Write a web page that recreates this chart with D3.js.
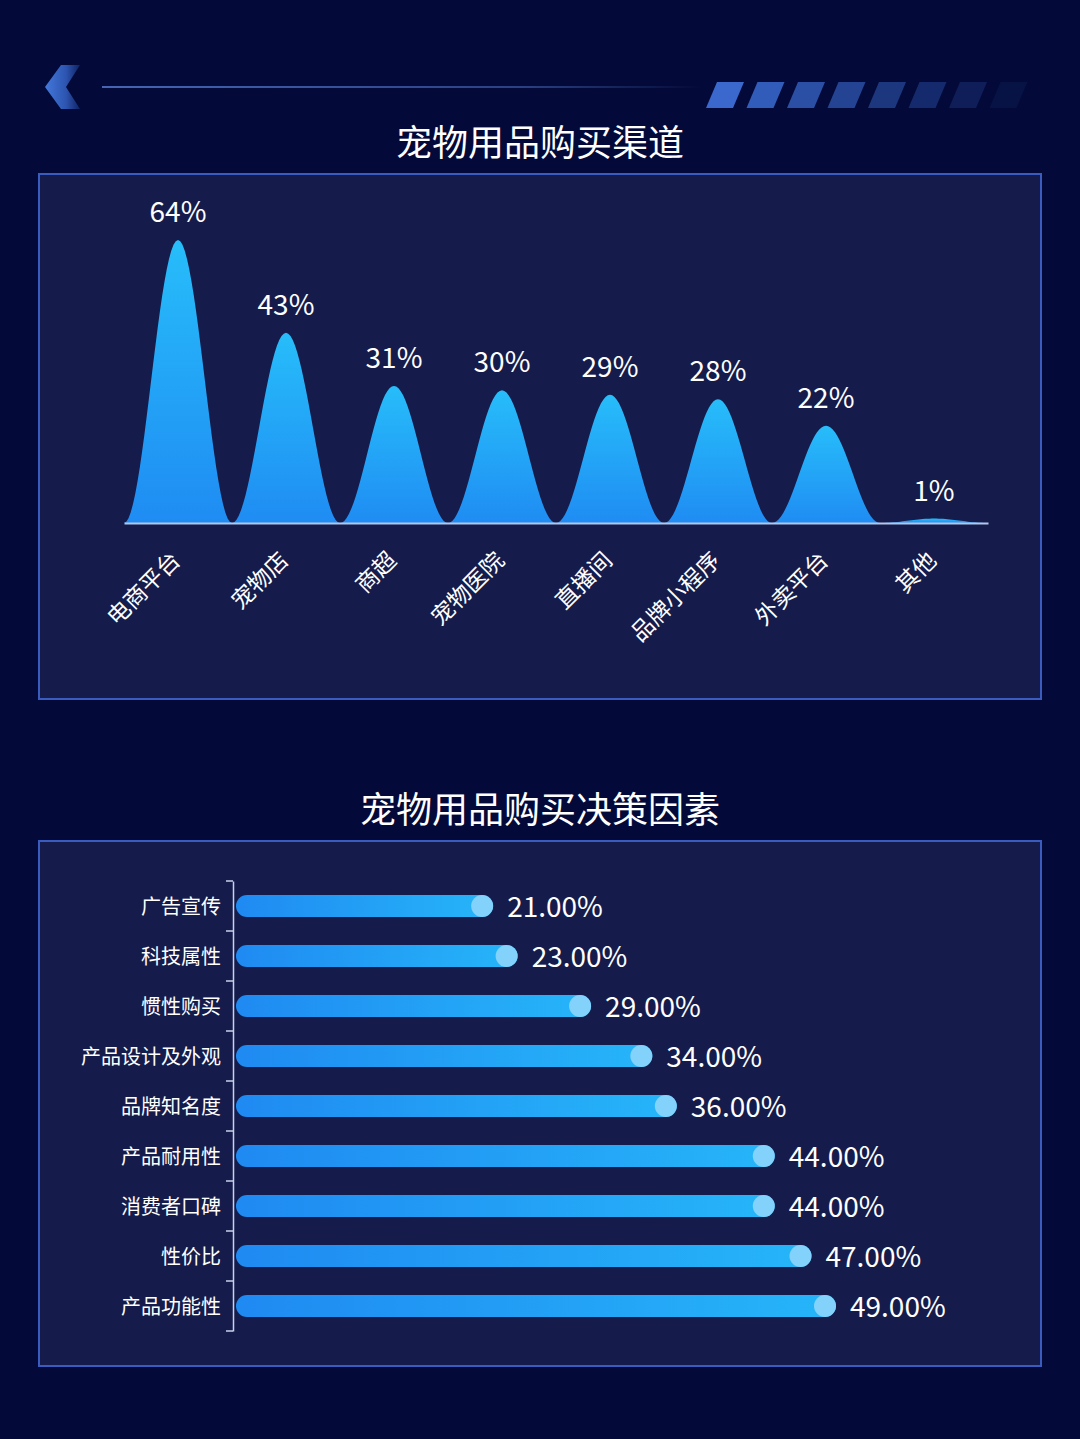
<!DOCTYPE html>
<html>
<head>
<meta charset="utf-8">
<script src="https://cdn.jsdelivr.net/npm/d3@7"></script>
<style>
  html, body { margin: 0; padding: 0; background: #030a39; }
  svg { display: block; }
  text { font-family: "Noto Sans CJK SC", "Noto Sans", sans-serif; fill: #fff; }
</style>
</head>
<body>
<div id="chart"></div>
<script>
// purchase channels (top chart)
var channels = ['电商平台', '宠物店', '商超', '宠物医院', '直播间', '品牌小程序', '外卖平台', '其他'];
var channelPct = [64, 43, 31, 30, 29, 28, 22, 1];

// purchase decision factors (bottom chart)
var factors = ['广告宣传', '科技属性', '惯性购买', '产品设计及外观', '品牌知名度', '产品耐用性', '消费者口碑', '性价比', '产品功能性'];
var factorPct = [21, 23, 29, 34, 36, 44, 44, 47, 49];

var W = 1080, H = 1439;
var svg = d3.select('#chart').append('svg')
    .attr('width', W)
    .attr('height', H);

var defs = svg.append('defs');

var peakGrad = defs.append('linearGradient')
    .attr('id', 'peakGrad')
    .attr('x1', 0).attr('y1', 0).attr('x2', 0).attr('y2', 1);
peakGrad.append('stop').attr('offset', '0%').attr('stop-color', '#27bdfa');
peakGrad.append('stop').attr('offset', '100%').attr('stop-color', '#1f8cf3');

var barGrad = defs.append('linearGradient')
    .attr('id', 'barGrad')
    .attr('x1', 0).attr('y1', 0).attr('x2', 1).attr('y2', 0);
barGrad.append('stop').attr('offset', '0%').attr('stop-color', '#1f8af2');
barGrad.append('stop').attr('offset', '100%').attr('stop-color', '#26b5f9');

var lineGrad = defs.append('linearGradient')
    .attr('id', 'lineGrad')
    .attr('x1', 0).attr('y1', 0).attr('x2', 1).attr('y2', 0);
lineGrad.append('stop').attr('offset', '0%').attr('stop-color', '#4665b4').attr('stop-opacity', 1);
lineGrad.append('stop').attr('offset', '70%').attr('stop-color', '#4665b4').attr('stop-opacity', 0.6);
lineGrad.append('stop').attr('offset', '100%').attr('stop-color', '#4665b4').attr('stop-opacity', 0);

var chevGrad = defs.append('linearGradient')
    .attr('id', 'chevGrad')
    .attr('x1', 0).attr('y1', 0).attr('x2', 1).attr('y2', 0);
chevGrad.append('stop').attr('offset', '0%').attr('stop-color', '#4378dc');
chevGrad.append('stop').attr('offset', '60%').attr('stop-color', '#2d55b0');
chevGrad.append('stop').attr('offset', '100%').attr('stop-color', '#0f2263');

// header decoration
svg.append('path')
    .attr('d', 'M61,65 L80,65 L66,87 L80,109 L61,109 L45,87 Z')
    .attr('fill', 'url(#chevGrad)');

svg.append('rect')
    .attr('x', 102).attr('y', 86)
    .attr('width', 600).attr('height', 2)
    .attr('fill', 'url(#lineGrad)');

d3.range(8).forEach(function (i) {
  var x = 706 + i * 40.5;
  svg.append('path')
    .attr('d', 'M' + x + ',108 L' + (x + 11) + ',82 L' + (x + 38) + ',82 L' + (x + 27) + ',108 Z')
    .attr('fill', '#3a68cc')
    .attr('opacity', Math.max(0.08, 1 - i * 0.13));
});

// panels
function panel(y, h, title, ty) {
  svg.append('rect')
    .attr('x', 39).attr('y', y)
    .attr('width', 1002).attr('height', h)
    .attr('fill', '#151c4b')
    .attr('stroke', '#3b5cbf')
    .attr('stroke-width', 2);
  svg.append('text')
    .attr('x', 540).attr('y', ty)
    .attr('text-anchor', 'middle')
    .attr('font-size', 36)
    .text(title);
}
panel(174, 525, '宠物用品购买渠道', 156);
panel(841, 525, '宠物用品购买决策因素', 823);

// ---------- top chart: peaks ----------
var x = d3.scaleBand().domain(channels).range([124, 988]).padding(0);
var y = d3.scaleLinear().domain([0, 64]).range([523, 240]);

// bell shaped mark spanning the whole band (raised cosine outline)
var steps = d3.range(0, 1.0001, 1 / 48);
function bell(x0, w, v) {
  return d3.line()
    .x(function (t) { return x0 + t * w; })
    .y(function (t) { return y(v * (1 - Math.cos(2 * Math.PI * t)) / 2); })(steps) + 'Z';
}

var peak = svg.append('g');
channels.forEach(function (c, i) {
  var cx = x(c) + x.bandwidth() / 2;
  peak.append('path')
    .attr('d', bell(x(c), x.bandwidth(), channelPct[i]))
    .attr('fill', 'url(#peakGrad)');
  peak.append('text')
    .attr('x', cx).attr('y', y(channelPct[i]) - 18)
    .attr('text-anchor', 'middle')
    .attr('font-size', 28)
    .text(channelPct[i] + '%');
});

var xAxis = svg.append('g')
    .attr('transform', 'translate(0,523)')
    .call(d3.axisBottom(x).tickSize(0).tickSizeOuter(0).tickFormat(''));
xAxis.select('.domain').attr('stroke', '#b3c6ec').attr('stroke-width', 2);

svg.append('g').selectAll('text')
  .data(channels)
  .join('text')
    .attr('transform', function (d) {
      return 'translate(' + (x(d) + x.bandwidth() / 2 - 2) + ',556) rotate(-45)';
    })
    .attr('text-anchor', 'end')
    .attr('dy', '0.35em')
    .attr('font-size', 23)
    .text(function (d) { return d; });

// ---------- bottom chart: bars ----------
var yb = d3.scaleBand().domain(factors).range([881, 1331]).padding(0);
var xb = d3.scaleLinear().domain([0, 49]).range([236, 836]);
var barH = 22;

var yAxis = svg.append('g')
    .attr('transform', 'translate(233,0)')
    .call(d3.axisLeft(yb).tickSize(0).tickSizeOuter(0).tickPadding(12));
yAxis.select('.domain').attr('stroke', '#c9d2ea').attr('stroke-width', 1.5);
yAxis.selectAll('text')
    .attr('font-size', 20)
    .attr('dy', '0.4em')
    .attr('fill', '#fff')
    .attr('font-family', '"Noto Sans CJK SC", sans-serif');

// boundary ticks
var bounds = factors.map(function (f) { return yb(f); }).concat([yb.range()[1]]);
svg.append('g').selectAll('line')
  .data(bounds)
  .join('line')
    .attr('x1', 226).attr('x2', 233)
    .attr('y1', function (d) { return d; })
    .attr('y2', function (d) { return d; })
    .attr('stroke', '#c9d2ea')
    .attr('stroke-width', 1.5);

var bars = svg.append('g').selectAll('g')
  .data(factors)
  .join('g')
    .attr('transform', function (d) {
      return 'translate(0,' + (yb(d) + yb.bandwidth() / 2) + ')';
    });

bars.append('rect')
    .attr('x', xb(0))
    .attr('y', -barH / 2)
    .attr('height', barH)
    .attr('rx', barH / 2)
    .attr('width', function (d, i) { return xb(factorPct[i]) - xb(0); })
    .attr('fill', 'url(#barGrad)');

bars.append('circle')
    .attr('cx', function (d, i) { return xb(factorPct[i]) - barH / 2; })
    .attr('cy', 0)
    .attr('r', barH / 2)
    .attr('fill', '#82d2fb');

bars.append('text')
    .attr('x', function (d, i) { return xb(factorPct[i]) + 14; })
    .attr('dy', '0.38em')
    .attr('font-size', 28)
    .text(function (d, i) { return factorPct[i].toFixed(2) + '%'; });
</script>
</body>
</html>
